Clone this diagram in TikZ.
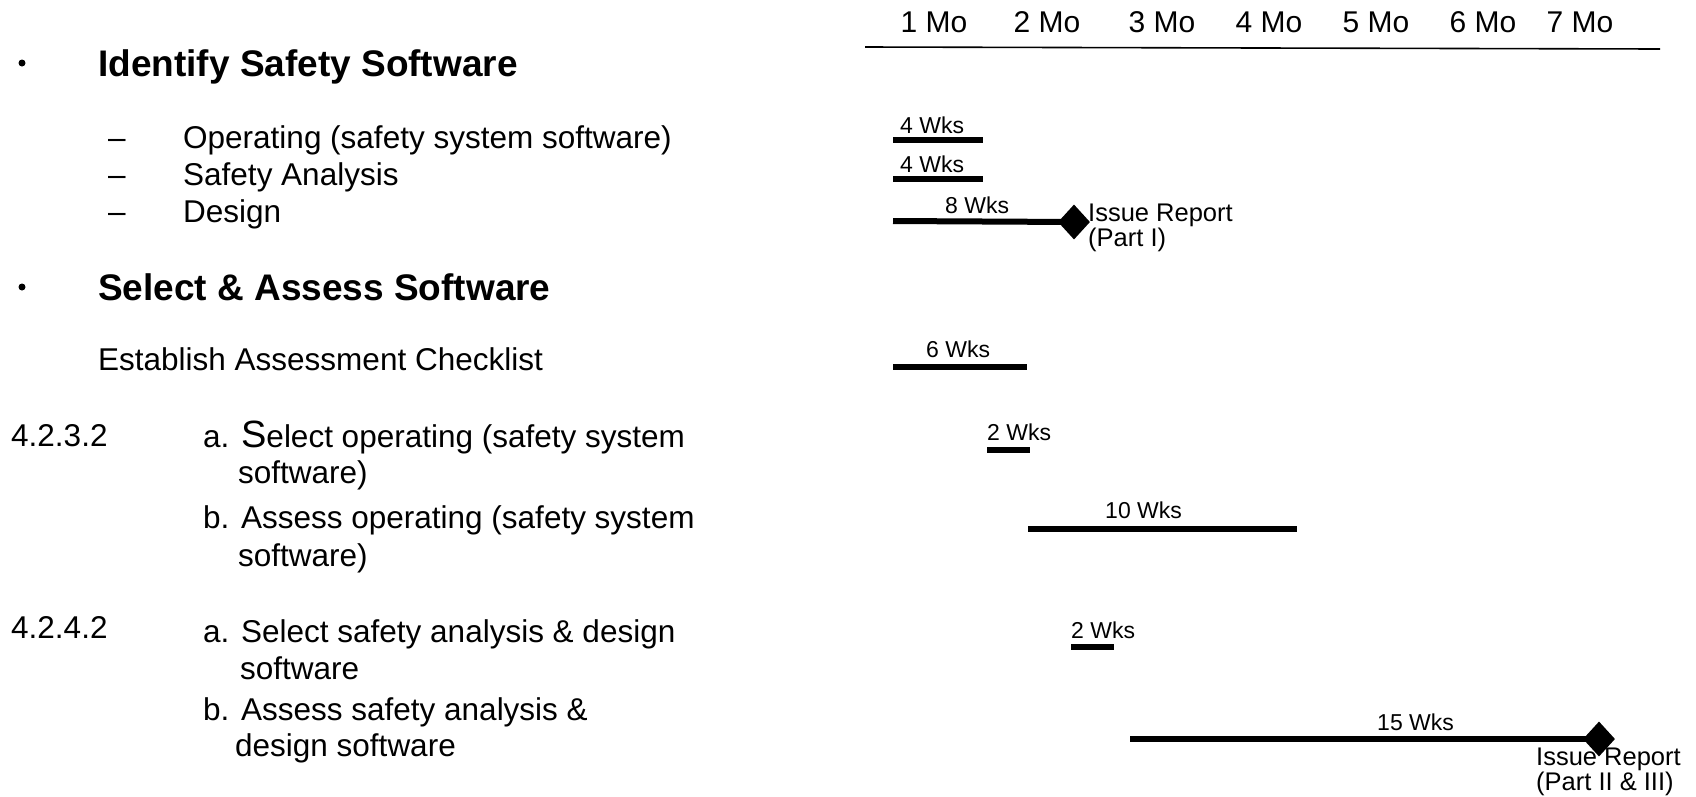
\documentclass[tikz,border=0pt]{standalone}
\usepackage{fontspec}
\setmainfont{Liberation Sans}
\usetikzlibrary{shapes.geometric}
\newcommand{\myfs}[1]{\fontsize{#1}{#1}\selectfont}
\tikzset{
  txt/.style={anchor=base west, inner sep=0pt, font=\myfs{31.5}},
  head/.style={anchor=base west, inner sep=0pt, font=\myfs{37}\bfseries},
  month/.style={anchor=base, inner sep=0pt, font=\myfs{30}},
  wk/.style={anchor=base west, inner sep=0pt, font=\myfs{23}},
  note/.style={anchor=base west, inner sep=0pt, font=\myfs{25.5}},
  bar/.style={line width=6pt, line cap=butt},
  mile/.style={diamond, fill=black, inner sep=0pt, minimum width=32pt, minimum height=35pt},
  dot/.style={circle, fill=black, inner sep=0pt, minimum size=7pt}
}
\begin{document}
\begin{tikzpicture}[x=1pt,y=-1pt]
\useasboundingbox[fill=white] (0,0) rectangle (1696,796);
% timeline header
\node[month] (m1) at (934,32) {1 Mo};
\node[month] (m2) at (1047,32) {2 Mo};
\node[month] (m3) at (1162,32) {3 Mo};
\node[month] (m4) at (1269,32) {4 Mo};
\node[month] (m5) at (1376,32) {5 Mo};
\node[month] (m6) at (1483,32) {6 Mo};
\node[month] (m7) at (1580,32) {7 Mo};
\coordinate (axL) at (865,47);
\coordinate (axR) at (1660,49);
\draw[line width=1.6pt] (axL) -- (axR);
% left column
\node[dot] (b1) at (22,63) {};
\node[head] (t1) at (98,76) {Identify Safety Software};
\node[txt] (d1) at (108,148) {–};
\node[txt] (t11) at (183,148) {Operating (safety system software)};
\node[txt] (d2) at (108,185) {–};
\node[txt] (t12) at (183,185) {Safety Analysis};
\node[txt] (d3) at (108,222) {–};
\node[txt] (t13) at (183,222) {Design};
\node[dot] (b2) at (22,287) {};
\node[head] (t2) at (98,300) {Select \& Assess Software};
\node[txt] (t21) at (98,370) {Establish Assessment Checklist};
\node[txt] (n1) at (11,446) {4.2.3.2};
\node[txt] (t22) at (203,447) {a. {\myfs{38}S}elect operating (safety system};
\node[txt] (t22b) at (238,483) {software)};
\node[txt] (t23) at (203,528) {b. Assess operating (safety system};
\node[txt] (t23b) at (238,566) {software)};
\node[txt] (n2) at (11,638) {4.2.4.2};
\node[txt] (t24) at (203,642) {a. Select safety analysis \& design};
\node[txt] (t24b) at (240,679) {software};
\node[txt] (t25) at (203,720) {b. Assess safety analysis \&};
\node[txt] (t25b) at (235,756) {design software};
% bars
\coordinate (s1) at (893,140); \coordinate (e1) at (983,140);
\draw[bar] (s1) -- (e1);
\node[wk] (l1) at (900,133) {4 Wks};
\coordinate (s2) at (893,179); \coordinate (e2) at (983,179);
\draw[bar] (s2) -- (e2);
\node[wk] (l2) at (900,172) {4 Wks};
\node[note] (r1a) at (1088,221) {Issue Report};
\node[note] (r1b) at (1088,246) {(Part I)};
\node[mile] (ms1) at (1074,222) {};
\coordinate (s3) at (893,221);
\draw[bar] (s3) -- (ms1.center);
\node[wk] (l3) at (945,213) {8 Wks};
\coordinate (s4) at (893,367); \coordinate (e4) at (1027,367);
\draw[bar] (s4) -- (e4);
\node[wk] (l4) at (926,357) {6 Wks};
\coordinate (s5) at (987,450); \coordinate (e5) at (1030,450);
\draw[bar] (s5) -- (e5);
\node[wk] (l5) at (987,440) {2 Wks};
\coordinate (s6) at (1028,529); \coordinate (e6) at (1297,529);
\draw[bar] (s6) -- (e6);
\node[wk] (l6) at (1105,518) {10 Wks};
\coordinate (s7) at (1071,647); \coordinate (e7) at (1114,647);
\draw[bar] (s7) -- (e7);
\node[wk] (l7) at (1071,638) {2 Wks};
\node[note] (r2a) at (1536,765) {Issue Report};
\node[note] (r2b) at (1536,790) {(Part II \& III)};
\node[mile] (ms2) at (1599,739) {};
\coordinate (s8) at (1130,739);
\draw[bar] (s8) -- (ms2.center);
\node[wk] (l8) at (1377,730) {15 Wks};
\end{tikzpicture}
\end{document}
